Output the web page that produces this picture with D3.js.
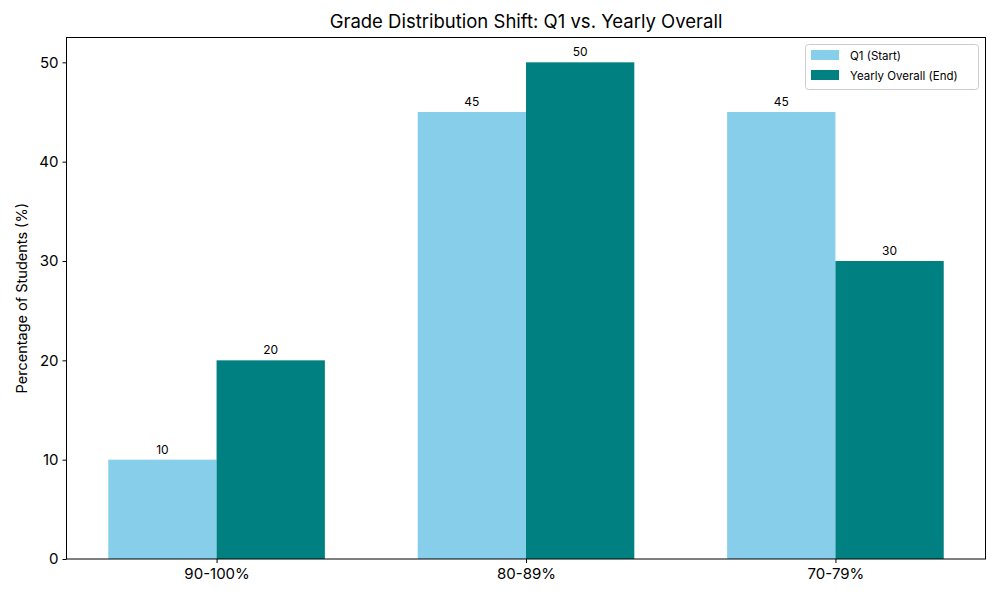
<!DOCTYPE html>
<html><head><meta charset="utf-8">
<script src="https://cdn.jsdelivr.net/npm/d3@7"></script>
<style>body{margin:0;background:#fff}svg{font-family:Inter,"DejaVu Sans",sans-serif}</style>
</head><body><svg id="c" width="1000" height="600"></svg>
<script>
const categories = ["90-100%", "80-89%", "70-79%"];
const seriesNames = ["Q1 (Start)", "Yearly Overall (End)"];
const q1Values = [10, 45, 45];
const yearlyValues = [20, 50, 30];
const yTicks = [0, 10, 20, 30, 40, 50];
const colors = ["#87CEEB", "#008080"];

const svg = d3.select("#c");
const L = 66.5, R = 985.5, T = 37.5, B = 559;
const barW = 0.35;
const x = d3.scaleLinear().domain([-0.485, 2.485]).range([L, R]);
const y = d3.scaleLinear().domain([0, 52.5]).range([B, T]);

const series = [q1Values, yearlyValues];
series.forEach((vals, si) => {
  const off = si === 0 ? -barW : 0;
  svg.append("g").selectAll("rect").data(vals).join("rect")
    .attr("x", (d, i) => x(i + off))
    .attr("width", (d, i) => x(i + off + barW) - x(i + off))
    .attr("y", d => y(d))
    .attr("height", d => y(0) - y(d))
    .attr("fill", colors[si]);
  svg.append("g").selectAll("text").data(vals).join("text")
    .attr("x", (d, i) => x(i + off + barW / 2))
    .attr("y", d => y(d) - 6)
    .attr("text-anchor", "middle")
    .attr("font-size", 12)
    .text(d => d);
});

const yAxis = d3.axisLeft(y).tickValues(yTicks).tickSize(4).tickPadding(4);
const gy = svg.append("g").attr("transform", `translate(${L},0)`).call(yAxis);
const xAxis = d3.axisBottom(x).tickValues([0, 1, 2]).tickFormat(i => categories[i]).tickSize(4).tickPadding(5);
const gx = svg.append("g").attr("transform", `translate(0,${B})`).call(xAxis);
[gy, gx].forEach(g => {
  g.select(".domain").remove();
  g.selectAll("text").attr("font-size", 15).attr("fill", "#000").attr("font-family", 'Inter,"DejaVu Sans",sans-serif');
  g.selectAll("line").attr("stroke", "#000");
});

svg.append("rect").attr("x", L).attr("y", T).attr("width", R - L).attr("height", B - T)
  .attr("fill", "none").attr("stroke", "#000").attr("stroke-width", 1);

svg.append("text").attr("x", (L + R) / 2).attr("y", 28).attr("text-anchor", "middle")
  .attr("font-size", 18.5).text("Grade Distribution Shift: Q1 vs. Yearly Overall");

svg.append("text").attr("transform", `translate(27,${(T + B) / 2}) rotate(-90)`)
  .attr("text-anchor", "middle").attr("font-size", 14.5).text("Percentage of Students (%)");

const lg = svg.append("g");
lg.append("rect").attr("x", 805.5).attr("y", 44.5).attr("width", 173).attr("height", 45)
  .attr("rx", 3).attr("fill", "#fff").attr("fill-opacity", 0.8).attr("stroke", "#ccc");
seriesNames.forEach((n, i) => {
  lg.append("rect").attr("x", 811).attr("y", 50 + i * 20).attr("width", 28).attr("height", 10).attr("fill", colors[i]);
  lg.append("text").attr("x", 850).attr("y", 59.5 + i * 20).attr("font-size", 11.5).text(n);
});
</script></body></html>
